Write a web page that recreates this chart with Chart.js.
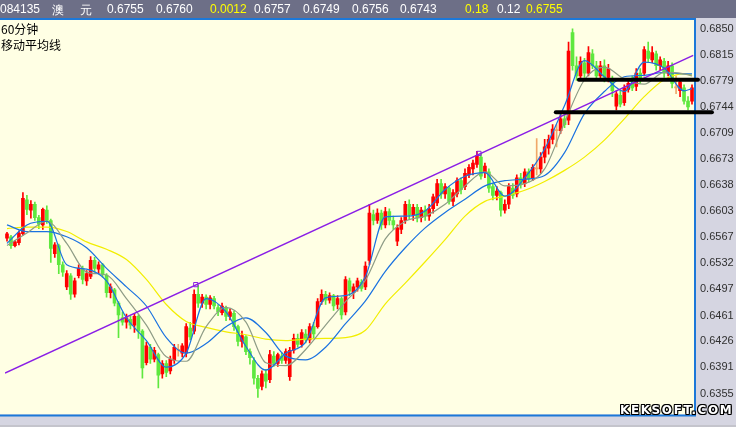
<!DOCTYPE html>
<html>
<head>
<meta charset="utf-8">
<script src="https://cdn.jsdelivr.net/npm/chart.js@4"></script>
<style>
  body { margin: 0; width: 736px; height: 427px; overflow: hidden; position: relative; background: #d5d5e1; }
  #chart { position: absolute; left: 0; top: 0; }
  #hdr { position: absolute; left: 0; top: 0; width: 736px; height: 18px; background: #6d6f87;
         font: 12px "Liberation Sans", sans-serif; color: #fff; }
  #hdr span { position: absolute; top: 2px; white-space: nowrap; }
  #hdr .y { color: #ffff00; }
  .lbl { position: absolute; left: 1px; font: 12px "Noto Sans CJK SC", sans-serif; color: #000; line-height: 14px; }
  #wm { position: absolute; left: 620px; top: 404px; font: bold 12px "DejaVu Sans", sans-serif; color: #fff;
        letter-spacing: 1.6px; line-height: 13px;
        text-shadow: -1px 0 #000, 1px 0 #000, 0 -1px #000, 0 1px #000, 1px 1px #000, -1px -1px #000, 1px -1px #000, -1px 1px #000; }
</style>
</head>
<body>
<canvas id="chart" width="736" height="427"></canvas>
<div id="hdr">
  <span style="left:0">084135</span>
  <span style="left:52px">澳</span>
  <span style="left:80px">元</span>
  <span style="left:107px">0.6755</span>
  <span style="left:156px">0.6760</span>
  <span class="y" style="left:210px">0.0012</span>
  <span style="left:254px">0.6757</span>
  <span style="left:303px">0.6749</span>
  <span style="left:352px">0.6756</span>
  <span style="left:400px">0.6743</span>
  <span class="y" style="left:465px">0.18</span>
  <span style="left:497px">0.12</span>
  <span class="y" style="left:526px">0.6755</span>
</div>
<div class="lbl" style="top:22px">60分钟</div>
<div class="lbl" style="top:38px">移动平均线</div>
<div id="wm">KEKSOFT.COM</div>
<script>
// prices in pips (1e-4), one entry per 60-minute candle
const opens = [
  6566,6568,6556,6560,6572,6618,6604,6612,6594,6584,
  6604,6590,6545,6556,6530,6500,6515,6490,6515,6525,
  6508,6514,6536,6524,6530,6516,6492,6496,6478,6458,
  6452,6456,6448,6460,6440,6397,6418,6402,6408,6382,
  6396,6386,6400,6414,6410,6410,6444,6440,6490,6478,
  6486,6476,6484,6472,6465,6472,6460,6464,6446,6426,
  6432,6412,6400,6376,6365,6382,6374,6406,6396,6406,
  6400,6378,6414,6430,6422,6436,6428,6446,6446,6480,
  6490,6482,6488,6476,6484,6466,6508,6492,6500,6506,
  6500,6536,6598,6590,6600,6584,6602,6590,6562,6578,
  6590,6612,6598,6608,6594,6604,6596,6606,6614,6640,
  6626,6634,6616,6626,6644,6636,6652,6660,6666,6676,
  6656,6656,6636,6624,6628,6604,6612,6634,6626,6648,
  6640,6656,6648,6660,6660,6676,6688,6700,6712,6712,
  6728,6726,6845,6800,6786,6804,6790,6816,6800,6786,
  6800,6784,6782,6745,6760,6750,6768,6776,6772,6790,
  6790,6820,6808,6816,6800,6806,6790,6800,6770,6766,
  6770,6752,6752
];
const closes = [
  6572,6556,6561,6573,6620,6605,6612,6594,6585,6605,
  6590,6552,6557,6530,6520,6518,6490,6508,6525,6510,
  6518,6536,6525,6530,6517,6492,6500,6478,6462,6452,
  6458,6448,6460,6440,6390,6420,6402,6414,6380,6396,
  6384,6402,6418,6414,6420,6446,6432,6490,6478,6486,
  6476,6485,6474,6466,6474,6460,6466,6446,6426,6434,
  6412,6404,6376,6362,6382,6372,6408,6396,6408,6400,
  6412,6414,6430,6422,6438,6428,6446,6436,6480,6490,
  6482,6488,6474,6484,6462,6510,6494,6500,6508,6498,
  6528,6600,6590,6600,6584,6602,6590,6584,6580,6590,
  6612,6598,6608,6594,6604,6596,6606,6622,6640,6626,
  6636,6616,6628,6644,6632,6654,6662,6668,6678,6650,
  6664,6634,6624,6630,6604,6612,6636,6624,6648,6640,
  6656,6646,6662,6660,6676,6690,6700,6714,6712,6728,
  6720,6820,6800,6786,6806,6790,6818,6800,6786,6800,
  6784,6796,6766,6762,6748,6770,6776,6770,6790,6782,
  6822,6810,6818,6800,6808,6790,6800,6776,6770,6778,
  6752,6744,6770
];
const highs = [
  6574,6570,6563,6576,6628,6624,6617,6615,6597,6607,
  6610,6592,6560,6558,6534,6522,6518,6512,6530,6528,
  6522,6541,6540,6534,6532,6518,6504,6498,6480,6466,
  6463,6460,6464,6462,6442,6425,6422,6418,6410,6400,
  6400,6406,6422,6422,6423,6450,6452,6496,6502,6490,
  6489,6488,6487,6476,6478,6474,6470,6467,6448,6440,
  6434,6416,6404,6380,6386,6388,6414,6412,6410,6410,
  6416,6418,6436,6436,6442,6442,6450,6452,6484,6496,
  6494,6492,6490,6488,6486,6514,6512,6504,6512,6510,
  6534,6612,6604,6606,6604,6608,6606,6596,6584,6594,
  6616,6618,6612,6612,6608,6610,6612,6626,6646,6646,
  6640,6636,6632,6648,6648,6660,6666,6672,6684,6681,
  6668,6660,6640,6636,6630,6618,6640,6640,6652,6654,
  6660,6660,6666,6701,6682,6700,6706,6720,6720,6735,
  6734,6832,6850,6812,6812,6810,6826,6822,6806,6806,
  6808,6802,6786,6766,6766,6774,6782,6786,6796,6796,
  6826,6832,6826,6820,6812,6810,6806,6804,6786,6782,
  6774,6758,6774
];
const lows = [
  6562,6552,6554,6557,6570,6598,6593,6590,6579,6578,
  6586,6533,6540,6518,6514,6496,6483,6486,6512,6504,
  6502,6511,6520,6518,6513,6486,6485,6474,6431,6448,
  6444,6443,6438,6430,6376,6394,6396,6398,6363,6376,
  6378,6382,6396,6406,6405,6405,6428,6436,6472,6472,
  6470,6470,6470,6461,6462,6454,6455,6441,6420,6418,
  6408,6395,6368,6350,6360,6363,6370,6392,6392,6396,
  6396,6373,6410,6418,6418,6424,6424,6430,6444,6476,
  6476,6478,6468,6470,6456,6462,6488,6484,6494,6494,
  6496,6530,6584,6586,6578,6580,6584,6578,6556,6572,
  6586,6592,6590,6588,6588,6590,6590,6600,6610,6620,
  6620,6612,6610,6622,6626,6632,6648,6652,6662,6646,
  6648,6628,6618,6618,6596,6600,6606,6620,6622,6634,
  6636,6642,6644,6652,6654,6668,6680,6694,6690,6708,
  6716,6720,6794,6780,6782,6784,6786,6796,6782,6780,
  6778,6778,6758,6740,6744,6746,6764,6766,6766,6776,
  6786,6804,6804,6794,6794,6784,6786,6770,6762,6758,
  6748,6740,6748
];

// moving averages, every 5th candle
const maIndex = [0,5,10,15,20,25,30,35,40,45,50,55,60,65,70,75,80,85,90,95,
                 100,105,110,115,120,125,130,135,140,145,150,155,160,165,170,172];
const maFast = [6559,6584,6589,6530,6524,6508,6458,6427,6391,6410,6484,6466,6419,6387,6410,6425,6485,6488,6514,6595,
                6596,6603,6632,6650,6655,6623,6648,6687,6746,6807,6785,6765,6805,6797,6766,6769];
const maMid = [6556,6573,6589,6559,6520,6516,6484,6448,6405,6399,6446,6472,6452,6397,6393,6415,6448,6480,6509,6565,
               6589,6596,6612,6637,6656,6637,6640,6660,6723,6781,6798,6782,6775,6791,6789,6786];
const maSlow = [6584,6575,6575,6568,6553,6525,6500,6474,6431,6410,6423,6446,6458,6438,6406,6401,6418,6450,6481,6521,
                6553,6580,6601,6619,6637,6644,6646,6651,6682,6735,6765,6785,6787,6791,6789,6789];
const maLong = [6579,6581,6581,6575,6561,6551,6537,6510,6476,6453,6445,6439,6435,6429,6427,6429,6430,6431,6441,6477,
                6505,6534,6564,6596,6616,6623,6631,6643,6658,6676,6699,6728,6758,6781,6789,6787];

// hand-drawn studies: trend line, its touch points, two support levels
const trendX = [-0.5, 172.3];
const trendY = [6383, 6814];
const touchX = [47.4, 118.5];
const touchY = [6503, 6681];
const upperLevelX = [143.6, 173.5];
const upperLevelY = [6781, 6781];
const lowerLevelX = [137.8, 177];
const lowerLevelY = [6737, 6737];

const tickLabels = ['0.6850','0.6815','0.6779','0.6744','0.6709','0.6673','0.6638','0.6603',
                    '0.6567','0.6532','0.6497','0.6461','0.6426','0.6391','0.6355'];

const P = v => v / 10000;
const N = closes.length;
const pts = (xs, ys) => xs.map((x, k) => ({ x: x, y: P(ys[k]) }));

const candleColor = closes.map((c, i) => c > opens[i] ? '#ff0000' : (c < opens[i] ? '#5ee83e' : '#f0a868'));

const maLine = (vals, color, order) => ({
  type: 'line',
  data: pts(maIndex, vals),
  borderColor: color,
  borderWidth: 1.2,
  pointRadius: 0,
  cubicInterpolationMode: 'monotone',
  order: order
});

const frame = {
  id: 'frame',
  beforeDraw(chart) {
    const { ctx, chartArea: a } = chart;
    ctx.save();
    ctx.fillStyle = '#d5d5e1';
    ctx.fillRect(0, 0, chart.width, chart.height);
    ctx.fillStyle = '#ffffe4';
    ctx.fillRect(0, a.top, a.right, a.bottom - a.top);
    ctx.fillStyle = '#c4c4cc';
    ctx.fillRect(0, chart.height - 2, chart.width, 2);
    ctx.strokeStyle = '#1c78d8';
    ctx.lineWidth = 2;
    ctx.beginPath();
    ctx.moveTo(0, a.top - 1);
    ctx.lineTo(a.right + 1, a.top - 1);
    ctx.lineTo(a.right + 1, a.bottom + 1);
    ctx.lineTo(0, a.bottom + 1);
    ctx.stroke();
    ctx.restore();
  }
};

new Chart(document.getElementById('chart'), {
  type: 'bar',
  data: {
    datasets: [
      {
        type: 'bar',
        data: lows.map((l, i) => ({ x: i, y: [P(l), P(highs[i])] })),
        backgroundColor: candleColor,
        barThickness: 1,
        grouped: false,
        order: 10
      },
      {
        type: 'bar',
        data: opens.map((o, i) => ({ x: i, y: [P(o), P(closes[i])] })),
        backgroundColor: candleColor,
        barThickness: 3,
        minBarLength: 1,
        grouped: false,
        order: 9
      },
      maLine(maLong, '#f2ee00', 8),
      maLine(maSlow, '#1a72e0', 7),
      maLine(maMid, '#8e9c86', 6),
      maLine(maFast, '#1a72e0', 5),
      {
        type: 'line',
        data: pts(trendX, trendY),
        borderColor: '#8a1ee6',
        borderWidth: 1.5,
        pointRadius: 0,
        order: 2
      },
      {
        type: 'line',
        data: pts(touchX, touchY),
        showLine: false,
        pointStyle: 'rect',
        pointRadius: 3,
        borderColor: '#8a1ee6',
        backgroundColor: 'rgba(0,0,0,0)',
        borderWidth: 1,
        order: 2
      },
      {
        type: 'line',
        data: pts(upperLevelX, upperLevelY),
        borderColor: '#000',
        borderWidth: 4,
        borderCapStyle: 'round',
        pointRadius: 0,
        clip: false,
        order: 1
      },
      {
        type: 'line',
        data: pts(lowerLevelX, lowerLevelY),
        borderColor: '#000',
        borderWidth: 4,
        borderCapStyle: 'round',
        pointRadius: 0,
        clip: false,
        order: 1
      }
    ]
  },
  options: {
    responsive: false,
    animation: false,
    devicePixelRatio: 1,
    layout: { padding: { top: 20, bottom: 7, left: 0, right: 0 } },
    plugins: { legend: { display: false }, tooltip: { enabled: false } },
    scales: {
      x: { type: 'linear', min: -0.5, max: N - 0.5, offset: false, display: false },
      y: {
        position: 'right',
        min: 0.632692,
        max: 0.686204,
        grid: { display: false, drawTicks: false },
        border: { display: false },
        afterFit(s) { s.width = 42; },
        afterBuildTicks(s) { s.ticks = tickLabels.map(t => ({ value: Number(t) })); },
        ticks: {
          autoSkip: false,
          padding: 6,
          color: '#303030',
          font: { family: 'Liberation Sans', size: 11 },
          callback: (v, i) => tickLabels[i]
        }
      }
    }
  },
  plugins: [frame]
});
</script>
</body>
</html>
